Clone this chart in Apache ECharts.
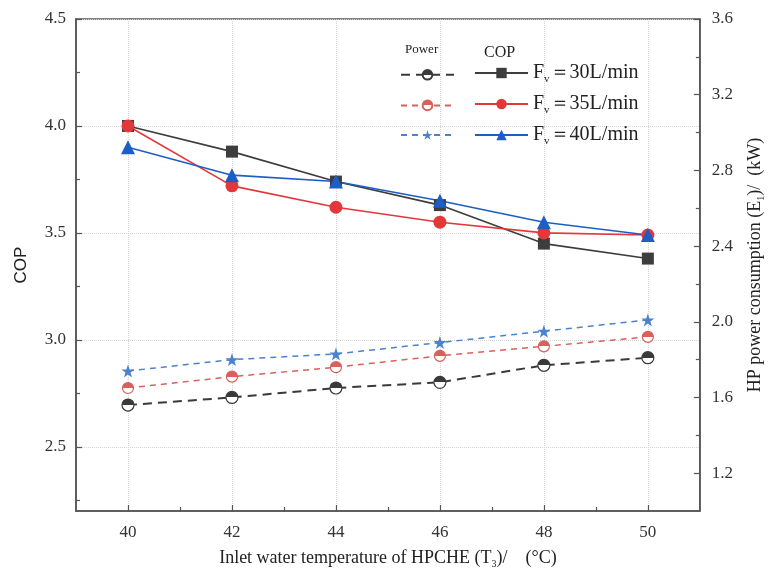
<!DOCTYPE html>
<html>
<head>
<meta charset="utf-8">
<script src="https://cdn.jsdelivr.net/npm/echarts@6/dist/echarts.min.js"></script>
<style>
html,body{margin:0;padding:0;background:#fff;}
#main{width:774px;height:575px;}
</style>
</head>
<body>
<div id="main"></div>
<script>
// ---- data ----
const temps = [40, 42, 44, 46, 48, 50];
const cop30 = [4.00, 3.88, 3.74, 3.63, 3.45, 3.38];
const cop35 = [4.00, 3.72, 3.62, 3.55, 3.50, 3.49];
const cop40 = [3.90, 3.77, 3.74, 3.65, 3.55, 3.49];
const pow30 = [1.56, 1.60, 1.65, 1.68, 1.77, 1.81];
const pow35 = [1.65, 1.71, 1.76, 1.82, 1.87, 1.92];
const pow40 = [1.74, 1.80, 1.83, 1.89, 1.95, 2.01];
const xLabels = [40, 42, 44, 46, 48, 50];
const xMinorTicks = [41, 43, 45, 47, 49];
const copLabels = [2.5, 3.0, 3.5, 4.0, 4.5];
const copMinorTicks = [2.25, 2.75, 3.25, 3.75, 4.25];
const powLabels = [1.2, 1.6, 2.0, 2.4, 2.8, 3.2, 3.6];
const powMinorTicks = [1.4, 1.8, 2.2, 2.6, 3.0, 3.4];

const pair = arr => temps.map((t, i) => [t, arr[i]]);
const serif = '"Liberation Serif", "Times New Roman", serif';

const cBlack = '#3d3d3d', cRed = '#e2383a', cBlue = '#1d5ec6';
const pBlack = '#3a3a3a', pRed = '#d9605c', pBlue = '#4a82cc';

function halfFill(c) {
  return {
    type: 'linear', x: 0, y: 0, x2: 0, y2: 1,
    colorStops: [
      {offset: 0, color: c}, {offset: 0.5, color: c},
      {offset: 0.5, color: '#ffffff'}, {offset: 1, color: '#ffffff'}
    ]
  };
}
const star = 'path://M10,0L12.35,7.24L19.51,7.24L13.71,11.71L15.88,18.76L10,14.47L4.12,18.76L6.29,11.71L0.49,7.24L7.65,7.24Z';

const chart = echarts.init(document.getElementById('main'), null, {renderer: 'canvas'});

const axisLineStyle = {color: '#555', width: 1.5};
const tickLine = {color: '#555', width: 1.2};
const labelStyle = {fontFamily: serif, fontSize: 17, color: '#333'};
const gridLine = {show: true, lineStyle: {color: '#d4d4d4', type: 'dotted', width: 1}};
const subRich = {s: {fontFamily: serif, fontSize: 10, lineHeight: 10, verticalAlign: 'bottom', color: '#222'}};

function minorAxis(extra, ticks) {
  return Object.assign({
    type: 'value',
    axisLine: {show: false},
    axisTick: {show: true, inside: true, length: 4, customValues: ticks, lineStyle: tickLine},
    axisLabel: {show: false},
    splitLine: {show: false}
  }, extra);
}

const option = {
  backgroundColor: '#fff',
  animation: false,
  title: [
    {text: 'Power', left: 400, top: 38, textStyle: {fontFamily: serif, fontSize: 13, fontWeight: 'normal', color: '#222'}},
    {text: 'COP', left: 479, top: 40, textStyle: {fontFamily: serif, fontSize: 16, fontWeight: 'normal', color: '#222'}}
  ],
  grid: {left: 76, right: 71, top: 19, bottom: 64, show: true, borderColor: '#555', borderWidth: 1.5, backgroundColor: 'transparent'},
  legend: [
    {
      data: ['P30', 'P35', 'P40'],
      orient: 'vertical', left: 395, top: 64, itemWidth: 53, itemHeight: 12, itemGap: 19,
      formatter: () => '',
      textStyle: {fontSize: 20, lineHeight: 22}
    },
    {
      data: ['C30', 'C35', 'C40'],
      orient: 'vertical', left: 469, top: 56, itemWidth: 53, itemHeight: 13, itemGap: 7,
      formatter: name => 'F{s|v}\uFF1D' + name.slice(1) + 'L/min',
      textStyle: {
        fontFamily: serif, fontSize: 20, color: '#222', lineHeight: 24,
        rich: {s: {fontFamily: serif, fontSize: 11, lineHeight: 11, verticalAlign: 'bottom', color: '#222'}}
      }
    }
  ],
  xAxis: [
    {
      type: 'value', min: 39, max: 51, position: 'bottom',
      name: 'Inlet water temperature of HPCHE (T{s|3})/    (\u00B0C)',
      nameLocation: 'middle', nameGap: 36,
      nameTextStyle: {fontFamily: serif, fontSize: 18, color: '#222', lineHeight: 22, rich: subRich},
      axisLine: {lineStyle: axisLineStyle},
      axisTick: {inside: true, length: 6, customValues: xLabels, lineStyle: tickLine},
      axisLabel: Object.assign({margin: 13, customValues: xLabels}, labelStyle),
      splitLine: gridLine
    },
    minorAxis({min: 39, max: 51, position: 'bottom'}, xMinorTicks)
  ],
  yAxis: [
    {
      type: 'value', min: 2.2, max: 4.5, position: 'left',
      name: 'COP', nameLocation: 'middle', nameGap: 46, nameRotate: 90,
      nameTextStyle: {fontFamily: '"Liberation Sans", Arial, sans-serif', fontSize: 17, color: '#222'},
      axisLine: {show: true, lineStyle: axisLineStyle},
      axisTick: {show: true, inside: true, length: 6, customValues: copLabels, lineStyle: tickLine},
      axisLabel: Object.assign({margin: 10, customValues: copLabels, formatter: v => v.toFixed(1)}, labelStyle),
      splitLine: gridLine
    },
    {
      type: 'value', min: 1.0, max: 3.6, position: 'right',
      name: 'HP power consumption (E{s|1})/  (kW)', nameLocation: 'middle', nameGap: 42, nameRotate: 90,
      nameTextStyle: {fontFamily: serif, fontSize: 18, color: '#222', lineHeight: 22, rich: subRich},
      axisLine: {show: true, lineStyle: axisLineStyle},
      axisTick: {show: true, inside: true, length: 6, customValues: powLabels, lineStyle: tickLine},
      axisLabel: Object.assign({margin: 12, customValues: powLabels, formatter: v => v.toFixed(1)}, labelStyle),
      splitLine: {show: false}
    },
    minorAxis({min: 2.2, max: 4.5, position: 'left'}, copMinorTicks),
    minorAxis({min: 1.0, max: 3.6, position: 'right'}, powMinorTicks)
  ],
  series: [
    {name: 'P30', type: 'line', yAxisIndex: 1, data: pair(pow30), symbol: 'circle', symbolSize: 12,
      lineStyle: {color: pBlack, width: 2, type: [9, 6]},
      itemStyle: {color: halfFill(pBlack), borderColor: pBlack, borderWidth: 1.2}, z: 2},
    {name: 'P35', type: 'line', yAxisIndex: 1, data: pair(pow35), symbol: 'circle', symbolSize: 11,
      lineStyle: {color: pRed, width: 1.5, type: [6, 5]},
      itemStyle: {color: halfFill(pRed), borderColor: pRed, borderWidth: 1.2}, z: 2},
    {name: 'P40', type: 'line', yAxisIndex: 1, data: pair(pow40), symbol: star, symbolSize: 13,
      lineStyle: {color: pBlue, width: 1.5, type: [6, 5]},
      itemStyle: {color: pBlue}, z: 2},
    {name: 'C30', type: 'line', yAxisIndex: 0, data: pair(cop30), symbol: 'rect', symbolSize: 12,
      lineStyle: {color: cBlack, width: 1.6}, itemStyle: {color: cBlack}, z: 3},
    {name: 'C35', type: 'line', yAxisIndex: 0, data: pair(cop35), symbol: 'circle', symbolSize: 13,
      lineStyle: {color: cRed, width: 1.6}, itemStyle: {color: cRed}, z: 3},
    {name: 'C40', type: 'line', yAxisIndex: 0, data: pair(cop40), symbol: 'triangle', symbolSize: 14,
      lineStyle: {color: cBlue, width: 1.6}, itemStyle: {color: cBlue}, z: 3}
  ]
};
chart.setOption(option);
</script>
</body>
</html>
